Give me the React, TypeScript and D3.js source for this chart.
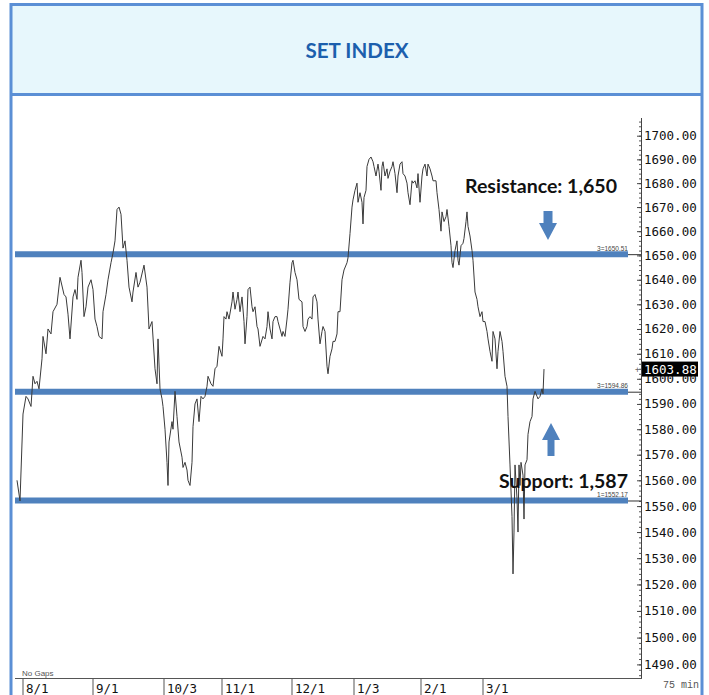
import React, { useEffect, useRef } from "react";
import * as d3 from "d3";

// SET index, 75-min bars (index counted from the first bar on screen)
const bars = [
  0, 3, 6, 9, 11, 14, 16, 18, 20, 22, 25, 26, 29, 31, 34, 36, 40, 43, 47, 49,
  51, 53, 56, 58, 60, 61, 64, 65, 67, 69, 71, 74, 76, 78, 80, 82, 85, 86, 89, 91,
  94, 96, 98, 100, 102, 104, 106, 108, 110, 112, 115, 116, 119, 121, 123, 127, 130, 132, 135, 138,
  140, 141, 143, 145, 146, 148, 150, 151, 152, 155, 156, 158, 160, 162, 165, 166, 168, 170, 171, 173,
  175, 176, 178, 180, 182, 184, 186, 188, 190, 191, 194, 196, 198, 200, 202, 205, 206, 207, 209, 210,
  212, 215, 216, 218, 220, 221, 223, 225, 227, 228, 230, 231, 233, 235, 236, 238, 240, 241, 243, 246,
  248, 250, 251, 253, 255, 256, 258, 260, 261, 263, 265, 266, 268, 270, 271, 273, 275, 276, 278, 280,
  282, 285, 286, 288, 290, 291, 293, 295, 296, 298, 300, 301, 303, 305, 306, 308, 310, 311, 313, 315,
  316, 318, 320, 321, 323, 325, 327, 330, 331, 333, 335, 336, 338, 340, 341, 343, 345, 346, 347, 349,
  350, 352, 354, 356, 357, 359, 361, 362, 364, 365, 366, 368, 370, 371, 373, 375, 376, 378, 380, 381,
  383, 385, 386, 388, 390, 391, 393, 395, 396, 398, 400, 401, 403, 405, 406, 408, 410, 411, 413, 415,
  416, 419, 420, 422, 424, 425, 427, 429, 430, 432, 434, 435, 436, 438, 440, 441, 442, 444, 446, 447,
  449, 450, 451, 453, 455, 456, 458, 460, 461, 463, 465, 466, 468, 470, 471, 473, 475, 476, 478, 480,
  481, 483, 485, 486, 488, 490, 491, 493, 495, 496, 497, 498, 500, 501, 502, 503, 504, 506, 507, 508,
  510, 511, 513, 515, 516, 518, 520, 521, 523, 525, 526, 527,
];

const closes = [
  1560, 1552, 1586, 1593, 1592, 1589, 1601, 1598, 1599, 1596, 1608, 1617, 1610, 1620, 1618, 1627, 1630, 1641, 1634, 1633,
  1626, 1616, 1633, 1636, 1632, 1641, 1648, 1643, 1625, 1629, 1637, 1640, 1636, 1624, 1621, 1617, 1616, 1627, 1634, 1640,
  1647, 1651, 1656, 1669, 1670, 1667, 1653, 1656, 1648, 1637, 1631, 1635, 1643, 1637, 1639, 1646, 1637, 1620, 1623, 1604,
  1598, 1616, 1596, 1592, 1589, 1580, 1567, 1558, 1575, 1583, 1580, 1595, 1585, 1575, 1569, 1565, 1567, 1564, 1560, 1558,
  1567, 1581, 1590, 1592, 1583, 1593, 1592, 1593, 1597, 1601, 1598, 1597, 1604, 1605, 1613, 1609, 1616, 1625, 1624, 1627,
  1624, 1631, 1635, 1628, 1632, 1635, 1627, 1633, 1623, 1614, 1625, 1636, 1637, 1629, 1627, 1629, 1621, 1620, 1613, 1617,
  1616, 1621, 1627, 1620, 1616, 1623, 1625, 1625, 1623, 1620, 1617, 1619, 1617, 1624, 1628, 1639, 1647, 1648, 1643, 1640,
  1632, 1631, 1621, 1619, 1621, 1624, 1625, 1624, 1633, 1634, 1631, 1624, 1614, 1619, 1621, 1619, 1605, 1602, 1609, 1612,
  1615, 1615, 1618, 1627, 1627, 1640, 1644, 1647, 1649, 1659, 1670, 1673, 1677, 1680, 1672, 1676, 1672, 1663, 1674, 1677,
  1687, 1690, 1691, 1689, 1687, 1683, 1688, 1685, 1677, 1687, 1689, 1683, 1686, 1682, 1685, 1687, 1689, 1684, 1676, 1683,
  1688, 1689, 1684, 1683, 1680, 1676, 1671, 1681, 1680, 1681, 1678, 1684, 1672, 1683, 1686, 1688, 1683, 1688, 1686, 1683,
  1681, 1681, 1676, 1669, 1660, 1668, 1664, 1666, 1669, 1662, 1654, 1647, 1645, 1652, 1656, 1648, 1646, 1654, 1655, 1657,
  1664, 1668, 1662, 1658, 1652, 1648, 1635, 1632, 1629, 1625, 1627, 1623, 1623, 1619, 1616, 1611, 1607, 1619, 1616, 1604,
  1611, 1619, 1615, 1611, 1601, 1597, 1585, 1566, 1546, 1524, 1540, 1566, 1553, 1540, 1566, 1558, 1567, 1562, 1545, 1566,
  1568, 1578, 1583, 1585, 1592, 1595, 1593, 1592, 1593, 1596, 1594, 1603.88,
];

const monthBars = [6, 76, 147, 205, 275, 337, 404, 466];
const monthLabels = ["8/1", "9/1", "10/3", "11/1", "12/1", "1/3", "2/1", "3/1"];

const priceTicks = [
  1490, 1500, 1510, 1520, 1530, 1540, 1550, 1560, 1570, 1580, 1590,
  1600, 1610, 1620, 1630, 1640, 1650, 1660, 1670, 1680, 1690, 1700,
];

const levelValues = [1650.51, 1594.86, 1552.17];
const levelTags = ["3=1650.51", "3=1594.86", "1=1552.17"];
const lastPrice = 1603.88;

export default function App() {
  const svgRef = useRef<SVGSVGElement>(null);

  useEffect(() => {
    const width = 709;
    const height = 695;
    const frame = "#5B8FD5";
    const levelBlue = "#4F81BD";
    const mono = "'DejaVu Sans Mono', monospace";

    const svg = d3.select(svgRef.current);
    svg.selectAll("*").remove();
    svg.attr("width", width).attr("height", height);

    // title band
    svg.append("rect")
      .attr("x", 11).attr("y", 5)
      .attr("width", 691).attr("height", 89)
      .attr("fill", "#E7F7FC");

    svg.append("text")
      .attr("x", 357).attr("y", 58)
      .attr("text-anchor", "middle")
      .attr("textLength", 103)
      .attr("lengthAdjust", "spacingAndGlyphs")
      .style("font-family", "Lato, 'Open Sans', sans-serif")
      .style("font-weight", 700)
      .style("font-size", "21px")
      .attr("fill", "#1C5FAD")
      .text("SET INDEX");

    // frame
    svg.append("path")
      .attr("d", "M11,695V4.5H702V695")
      .attr("fill", "none")
      .attr("stroke", frame)
      .attr("stroke-width", 3);
    svg.append("line")
      .attr("x1", 11).attr("x2", 702)
      .attr("y1", 94.5).attr("y2", 94.5)
      .attr("stroke", frame)
      .attr("stroke-width", 3);

    const x = d3.scaleLinear().domain([0, 624]).range([17, 641]);
    const y = d3.scaleLog().domain([1490, 1700]).range([664.4, 135.7]);

    // y axis (right side)
    const axisX = 641;
    svg.append("line")
      .attr("x1", axisX + 0.5).attr("x2", axisX + 0.5)
      .attr("y1", 118).attr("y2", 678)
      .attr("stroke", "#444");

    const minor = svg.append("g").attr("transform", `translate(${axisX},0)`)
      .call(d3.axisRight(y).tickValues(d3.range(1486, 1708, 2)).tickSize(-2).tickFormat(() => ""));
    minor.select(".domain").remove();
    minor.selectAll("line").attr("stroke", "#555");

    const major = svg.append("g").attr("transform", `translate(${axisX},0)`)
      .call(d3.axisRight(y).tickValues(priceTicks).tickSize(-4).tickPadding(3)
        .tickFormat((d) => (+d).toFixed(2)));
    major.select(".domain").remove();
    major.selectAll("line").attr("stroke", "#444");
    major.selectAll("text")
      .style("font-family", mono)
      .style("font-size", "12.5px")
      .attr("fill", "#111");

    // x axis
    svg.append("line")
      .attr("x1", 15).attr("x2", axisX + 1)
      .attr("y1", 678.5).attr("y2", 678.5)
      .attr("stroke", "#555");

    svg.selectAll(".month-tick")
      .data(monthBars)
      .join("line")
      .attr("class", "month-tick")
      .attr("x1", (d) => x(d)).attr("x2", (d) => x(d))
      .attr("y1", 679).attr("y2", 695)
      .attr("stroke", "#AAAAAA")
      .attr("stroke-width", 2);

    svg.selectAll(".month-label")
      .data(monthBars)
      .join("text")
      .attr("class", "month-label")
      .attr("x", (d) => x(d) + 3)
      .attr("y", 693)
      .style("font-family", mono)
      .style("font-size", "12.5px")
      .attr("fill", "#111")
      .text((d, i) => monthLabels[i]);

    svg.append("text")
      .attr("x", 22).attr("y", 675.5)
      .style("font-family", "'Liberation Sans', Arial, sans-serif")
      .style("font-size", "8px")
      .attr("fill", "#555")
      .text("No Gaps");

    svg.append("text")
      .attr("x", 663).attr("y", 688)
      .style("font-family", "'Liberation Mono', monospace")
      .style("font-size", "10px")
      .attr("fill", "#555")
      .text("75 min");

    // support / resistance lines
    const levels = svg.append("g");
    levels.selectAll(".level")
      .data(levelValues)
      .join("line")
      .attr("class", "level")
      .attr("x1", 15).attr("x2", 628)
      .attr("y1", (d) => y(d)).attr("y2", (d) => y(d))
      .attr("stroke", levelBlue)
      .attr("stroke-width", 6);
    levels.selectAll(".level-mark")
      .data(levelValues)
      .join("line")
      .attr("class", "level-mark")
      .attr("x1", 628).attr("x2", axisX)
      .attr("y1", (d) => y(d) + 0.5).attr("y2", (d) => y(d) + 0.5)
      .attr("stroke", "#333");
    levels.selectAll(".level-tag")
      .data(levelValues)
      .join("text")
      .attr("class", "level-tag")
      .attr("x", 628)
      .attr("y", (d) => y(d) - 3.5)
      .attr("text-anchor", "end")
      .attr("textLength", 31)
      .attr("lengthAdjust", "spacingAndGlyphs")
      .style("font-family", "'Liberation Sans', Arial, sans-serif")
      .style("font-size", "8px")
      .attr("fill", "#444")
      .text((d, i) => levelTags[i]);

    // price line
    const line = d3.line<number>()
      .x((d, i) => x(bars[i]))
      .y((d) => y(d));
    svg.append("path")
      .datum(closes)
      .attr("d", line)
      .attr("fill", "none")
      .attr("stroke", "#3A3A3A")
      .attr("stroke-width", 1);

    // last price box
    svg.append("rect")
      .attr("x", 642).attr("y", y(lastPrice) - 7.5)
      .attr("width", 56).attr("height", 15)
      .attr("fill", "#000");
    svg.append("text")
      .attr("x", 644).attr("y", y(lastPrice))
      .attr("dominant-baseline", "central")
      .style("font-family", mono)
      .style("font-size", "12.5px")
      .attr("fill", "#fff")
      .text(lastPrice.toFixed(2));
    svg.append("text")
      .attr("x", 635).attr("y", y(lastPrice) + 3)
      .style("font-family", mono)
      .style("font-size", "8px")
      .attr("fill", "#666")
      .text("+");

    // annotations
    const label = "Lato, 'Open Sans', sans-serif";
    svg.append("text")
      .attr("x", 465).attr("y", 193)
      .attr("textLength", 152)
      .attr("lengthAdjust", "spacingAndGlyphs")
      .style("font-family", label)
      .style("font-weight", 700)
      .style("font-size", "19.5px")
      .attr("fill", "#111")
      .text("Resistance: 1,650");
    svg.append("text")
      .attr("x", 499).attr("y", 488)
      .attr("textLength", 129)
      .attr("lengthAdjust", "spacingAndGlyphs")
      .style("font-family", label)
      .style("font-weight", 700)
      .style("font-size", "19px")
      .attr("fill", "#111")
      .text("Support: 1,587");

    const arrow = (cx: number, tail: number, base: number, tip: number, shaft: number, head: number) =>
      `M${cx - shaft},${tail}H${cx + shaft}V${base}H${cx + head}L${cx},${tip}L${cx - head},${base}H${cx - shaft}Z`;
    svg.append("path")
      .attr("d", arrow(548, 211, 223, 240, 4.5, 9))
      .attr("fill", levelBlue);
    svg.append("path")
      .attr("d", arrow(551, 456, 440, 423, 3.5, 9))
      .attr("fill", levelBlue);
  }, []);

  return (
    <div style={{ position: "absolute", left: 0, top: 0 }}>
      <svg ref={svgRef} style={{ display: "block" }}></svg>
    </div>
  );
}
